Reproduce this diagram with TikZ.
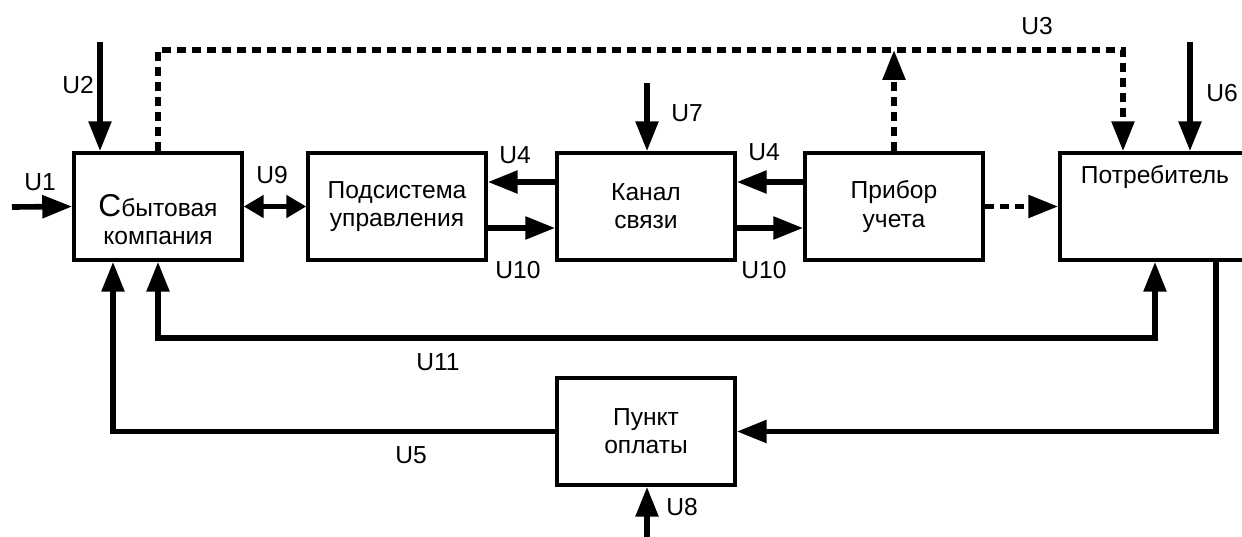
\documentclass[tikz,border=0pt]{standalone}
\usepackage{fontspec}
\setmainfont{Liberation Sans}
\usepackage{tikz}
\usetikzlibrary{
    arrows.meta,
    positioning,
    calc
}
\tikzstyle{box} = [draw, rectangle, line width=2pt, minimum width=3.56cm, minimum height=2.14cm, inner sep=0pt, align=center, font=\fontsize{14}{16}\selectfont]
\tikzstyle{flow} = [line width=3.2pt, -{Triangle[length=0.6cm,width=0.44cm]}]
\tikzstyle{dflow} = [flow, dash pattern=on 0.18cm off 0.12cm]
\tikzstyle{lbl} = [inner sep=0pt, align=center, font=\fontsize{14}{16}\selectfont]

\begin{document}
\begin{tikzpicture}[x=0.02cm, y=-0.02cm]

\clip (0,0) rectangle (1242,537);

% Блоки
\node[box, minimum width=3.36cm] (sk) at (158,206.5) {};
\node[lbl] (skt) at (158,220) {{\fontsize{18}{16}\selectfont С}бытовая\\компания};
\node[box] (pu) at (397,206.5) {Подсистема\\управления};
\node[box] (ks) at (646,206.5) {Канал\\связи};
\node[box] (pr) at (894,206.5) {Прибор\\учета};
\node[box, minimum width=4.04cm] (po) at (1161,206.5) {};
\node[lbl] (pot) at (1155,177) {Потребитель};
\node[box] (pk) at (646,431.5) {Пункт\\оплаты};

% Точки
\coordinate (u1s) at (12,207);
\coordinate (u2s) at (100,42);
\coordinate (u6s) at (1190,42);
\coordinate (u7s) at (647,83);
\coordinate (u8s) at (647,537);
\coordinate (u3l) at (158,50);
\coordinate (u3m) at (894,50);
\coordinate (u3r) at (1123,50);
\coordinate (u11l) at (158,338);
\coordinate (u11r) at (1155,338);
\coordinate (u5l) at (113,431.5);
\coordinate (u5r) at (1216,431.5);

% Входы
\draw[flow] (u1s) -- (sk.west);
\draw[flow] (u2s) -- (u2s |- sk.north);
\draw[flow] (u6s) -- (u6s |- po.north);
\draw[flow] (u7s) -- (u7s |- ks.north);
\draw[flow] (u8s) -- (u8s |- pk.south);

% Связи
\draw[line width=3.2pt, {Triangle[length=0.4cm,width=0.44cm]}-{Triangle[length=0.4cm,width=0.44cm]}] (sk.east) -- (pu.west);
\draw[flow] (ks.west |- 0,182) -- (pu.east |- 0,182);
\draw[flow] (pu.east |- 0,228) -- (ks.west |- 0,228);
\draw[flow] (pr.west |- 0,182) -- (ks.east |- 0,182);
\draw[flow] (ks.east |- 0,228) -- (pr.west |- 0,228);
\draw[dflow] (pr.east) -- (po.west);
\draw[dflow] (sk.north) -- (u3l) -- (u3r) -- (u3r |- po.north);
\draw[dflow] (pr.north) -- (u3m);
\draw[flow, {Triangle[length=0.6cm,width=0.44cm]}-{Triangle[length=0.6cm,width=0.44cm]}] (sk.south) -- (u11l) -- (u11r) -- (u11r |- po.south);
\draw[flow] (po.south -| u5r) -- (u5r) -- (pk.east);
\draw[flow] (pk.west) -- (u5l) -- (u5l |- sk.south);

% Метки
\node[lbl] (lu1) at (40,182) {U1};
\node[lbl] (lu2) at (78,85) {U2};
\node[lbl] (lu3) at (1037,26) {U3};
\node[lbl] (lu4a) at (515,155) {U4};
\node[lbl] (lu4b) at (764,152) {U4};
\node[lbl] (lu5) at (411,455) {U5};
\node[lbl] (lu6) at (1222,93) {U6};
\node[lbl] (lu7) at (687,113) {U7};
\node[lbl] (lu8) at (682,507) {U8};
\node[lbl] (lu9) at (272,175) {U9};
\node[lbl] (lu10a) at (518,270) {U10};
\node[lbl] (lu10b) at (764,270) {U10};
\node[lbl] (lu11) at (438,362) {U11};

\end{tikzpicture}
\end{document}
